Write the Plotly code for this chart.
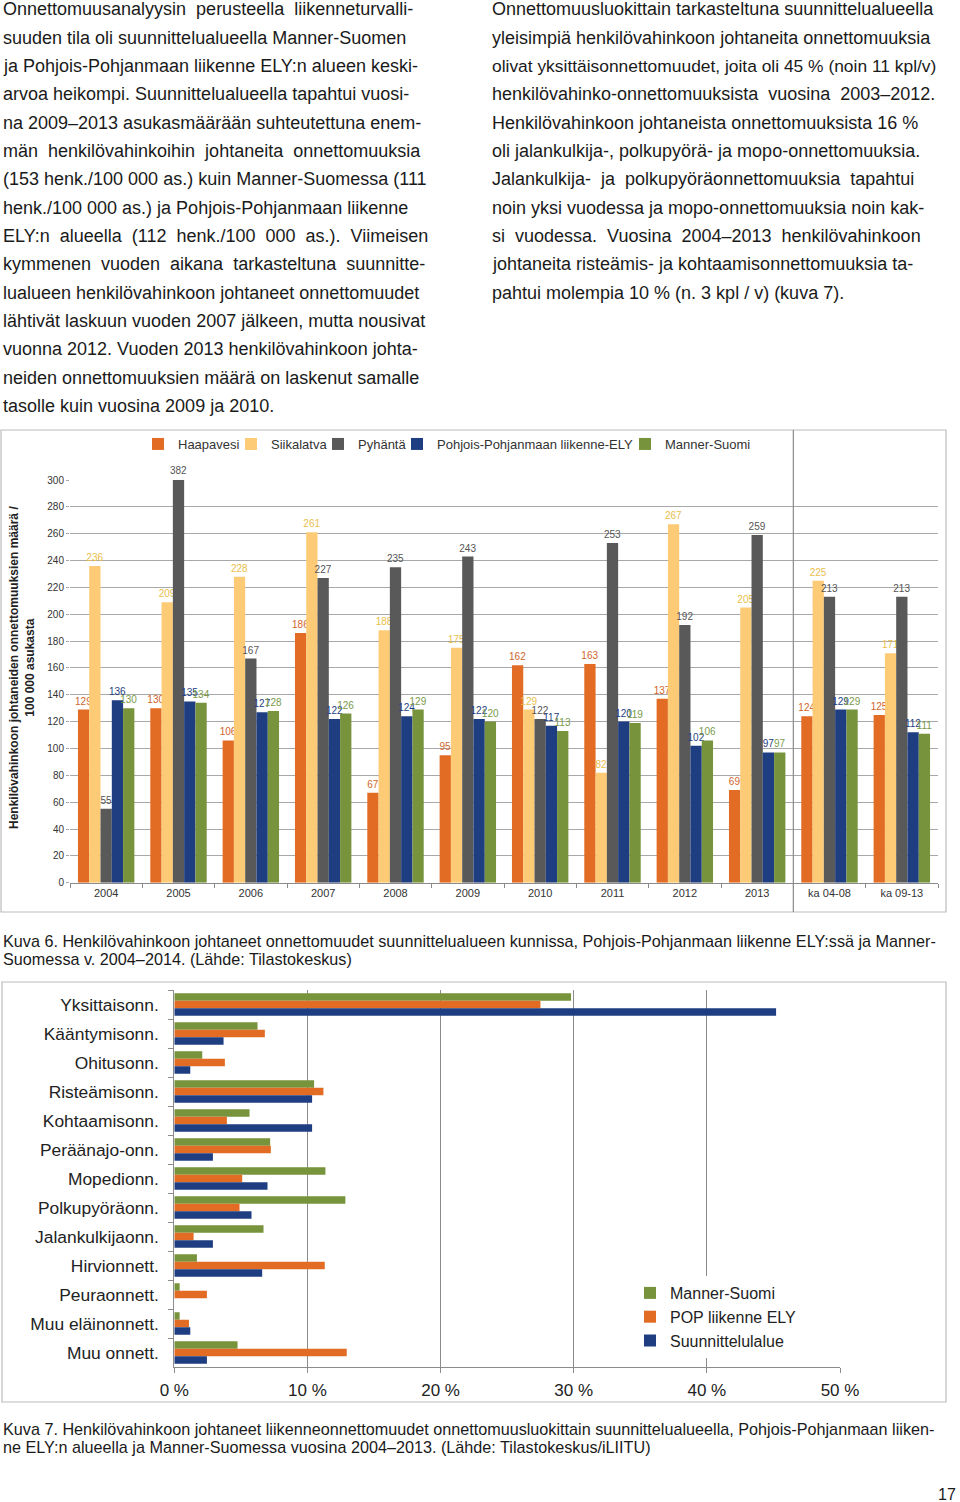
import plotly.graph_objects as go

W, H = 960, 1502


def fx(x):
    return x / W


def fy(y):
    return 1 - y / H


# ---------------- text ----------------
LEFT_TEXT = [
    "Onnettomuusanalyysin  perusteella  liikenneturvalli-",
    "suuden tila oli suunnittelualueella Manner-Suomen",
    "ja Pohjois-Pohjanmaan liikenne ELY:n alueen keski-",
    "arvoa heikompi. Suunnittelualueella tapahtui vuosi-",
    "na 2009–2013 asukasmäärään suhteutettuna enem-",
    "män  henkilövahinkoihin  johtaneita  onnettomuuksia",
    "(153 henk./100 000 as.) kuin Manner-Suomessa (111",
    "henk./100 000 as.) ja Pohjois-Pohjanmaan liikenne",
    "ELY:n  alueella  (112  henk./100  000  as.).  Viimeisen",
    "kymmenen  vuoden  aikana  tarkasteltuna  suunnitte-",
    "lualueen henkilövahinkoon johtaneet onnettomuudet",
    "lähtivät laskuun vuoden 2007 jälkeen, mutta nousivat",
    "vuonna 2012. Vuoden 2013 henkilövahinkoon johta-",
    "neiden onnettomuuksien määrä on laskenut samalle",
    "tasolle kuin vuosina 2009 ja 2010.",
]
RIGHT_TEXT = [
    "Onnettomuusluokittain tarkasteltuna suunnittelualueella",
    "yleisimpiä henkilövahinkoon johtaneita onnettomuuksia",
    "olivat yksittäisonnettomuudet, joita oli 45 % (noin 11 kpl/v)",
    "henkilövahinko-onnettomuuksista  vuosina  2003–2012.",
    "Henkilövahinkoon johtaneista onnettomuuksista 16 %",
    "oli jalankulkija-, polkupyörä- ja mopo-onnettomuuksia.",
    "Jalankulkija-  ja  polkupyöräonnettomuuksia  tapahtui",
    "noin yksi vuodessa ja mopo-onnettomuuksia noin kak-",
    "si  vuodessa.  Vuosina  2004–2013  henkilövahinkoon",
    "johtaneita risteämis- ja kohtaamisonnettomuuksia ta-",
    "pahtui molempia 10 % (n. 3 kpl / v) (kuva 7).",
]
CAPTION6 = [
    "Kuva 6. Henkilövahinkoon johtaneet onnettomuudet suunnittelualueen kunnissa, Pohjois-Pohjanmaan liikenne ELY:ssä ja Manner-",
    "Suomessa v. 2004–2014. (Lähde: Tilastokeskus)",
]
CAPTION7 = [
    "Kuva 7. Henkilövahinkoon johtaneet liikenneonnettomuudet onnettomuusluokittain suunnittelualueella, Pohjois-Pohjanmaan liiken-",
    "ne ELY:n alueella ja Manner-Suomessa vuosina 2004–2013. (Lähde: Tilastokeskus/iLIITU)",
]
PAGE_NO = "17"

# ---------------- chart 1 data ----------------
YEARS = ["2004", "2005", "2006", "2007", "2008", "2009", "2010", "2011",
         "2012", "2013", "ka 04-08", "ka 09-13"]
HAAPAVESI = [129, 130, 106, 186, 67, 95, 162, 163, 137, 69, 124, 125]
SIIKALATVA = [236, 209, 228, 261, 188, 175, 129, 82, 267, 205, 225, 171]
PYHANTA = [55, 382, 167, 227, 235, 243, 122, 253, 192, 259, 213, 213]
POP_ELY = [136, 135, 127, 122, 124, 122, 117, 120, 102, 97, 129, 112]
MANNER_SUOMI = [130, 134, 128, 126, 129, 120, 113, 119, 106, 97, 129, 111]
SERIES1_NAMES = ["Haapavesi", "Siikalatva", "Pyhäntä",
                 "Pohjois-Pohjanmaan liikenne-ELY", "Manner-Suomi"]
Y1_TICKS = list(range(0, 301, 20))
Y1_MAX = 300

# ---------------- chart 2 data ----------------
CLASSES = ["Yksittaisonn.", "Kääntymisonn.", "Ohitusonn.", "Risteämisonn.",
           "Kohtaamisonn.", "Peräänajo-onn.", "Mopedionn.", "Polkupyöräonn.",
           "Jalankulkijaonn.", "Hirvionnett.", "Peuraonnett.", "Muu eläinonnett.",
           "Muu onnett."]
MANNER_PCT = [29.8, 6.25, 2.1, 10.5, 5.65, 7.2, 11.35, 12.85, 6.7, 1.7, 0.4, 0.4, 4.75]
POP_PCT = [27.5, 6.8, 3.8, 11.2, 3.95, 7.25, 5.1, 4.9, 1.45, 11.3, 2.45, 1.1, 12.95]
SUUNN_PCT = [45.2, 3.7, 1.2, 10.35, 10.35, 2.9, 7.0, 5.8, 2.9, 6.6, 0.0, 1.2, 2.45]
SERIES2_NAMES = ["Manner-Suomi", "POP liikenne ELY", "Suunnittelulalue"]
X2_TICKS = [0, 10, 20, 30, 40, 50]
X2_LABELS = ["0 %", "10 %", "20 %", "30 %", "40 %", "50 %"]

# ---------------- styles ----------------
BAR_COLORS1 = ["#E36C24", "#FDCB76", "#595959", "#1F3E82", "#77933C"]
LABEL_COLORS1 = ["#CF652C", "#E9BE4C", "#555555", "#1F3E82", "#7A9A4A"]
BAR_COLORS2 = ["#77933C", "#E36C24", "#1F3E82"]
FONT = "Liberation Sans, Arial, sans-serif"
TEXT_COLOR = "#1a1a1a"
# legend ids and text-start pixel positions for the chart-1 legend entries
LEGEND1_IDS = ["legend", "legend3", "legend4", "legend5", "legend6"]
LEGEND1_TEXT_X = [176, 269, 356, 435, 663]

fig = go.Figure()

series1 = [HAAPAVESI, SIIKALATVA, PYHANTA, POP_ELY, MANNER_SUOMI]
for name, vals, col, lcol, lid in zip(SERIES1_NAMES, series1, BAR_COLORS1, LABEL_COLORS1, LEGEND1_IDS):
    fig.add_trace(go.Bar(
        x=YEARS, y=vals, name=name, xaxis="x", yaxis="y",
        marker=dict(color=col, line=dict(width=0)),
        text=[str(v) if v <= Y1_MAX else "" for v in vals],
        textposition="outside", constraintext="none",
        textfont=dict(size=10, color=lcol, family=FONT),
        hoverinfo="x+y", legend=lid,
    ))

series2 = [MANNER_PCT, POP_PCT, SUUNN_PCT]
for name, vals, col in zip(SERIES2_NAMES, series2, BAR_COLORS2):
    fig.add_trace(go.Bar(
        y=CLASSES, x=vals, name=name, orientation="h", xaxis="x2", yaxis="y2",
        marker=dict(color=col, line=dict(width=0)),
        legend="legend2",
    ))

annotations = []
LINE_H = 28.33
for i, line in enumerate(LEFT_TEXT):
    annotations.append(dict(text=line, x=fx(1), y=fy(9.5 + LINE_H * i), xref="paper", yref="paper",
                            xanchor="left", yanchor="middle", showarrow=False,
                            font=dict(size=18, color=TEXT_COLOR, family=FONT)))
for i, line in enumerate(RIGHT_TEXT):
    size = 17.4 if len(line) > 58 else 18
    annotations.append(dict(text=line, x=fx(490), y=fy(9.5 + LINE_H * i), xref="paper", yref="paper",
                            xanchor="left", yanchor="middle", showarrow=False,
                            font=dict(size=size, color=TEXT_COLOR, family=FONT)))
for i, line in enumerate(CAPTION6):
    annotations.append(dict(text=line, x=fx(1), y=fy(941 + 18 * i), xref="paper", yref="paper",
                            xanchor="left", yanchor="middle", showarrow=False,
                            font=dict(size=16.2, color=TEXT_COLOR, family=FONT)))
for i, line in enumerate(CAPTION7):
    annotations.append(dict(text=line, x=fx(1), y=fy(1429 + 18 * i), xref="paper", yref="paper",
                            xanchor="left", yanchor="middle", showarrow=False,
                            font=dict(size=16.2, color=TEXT_COLOR, family=FONT)))
annotations.append(dict(text=PAGE_NO, x=fx(958), y=fy(1494), xref="paper", yref="paper",
                        xanchor="right", yanchor="middle", showarrow=False,
                        font=dict(size=16, color=TEXT_COLOR, family=FONT)))
# y-axis title chart 1
annotations.append(dict(text="<b>Henkilövahinkoon johtaneiden onnettomuuksien määrä /<br>100 000 asukasta</b>",
                        x=fx(22), y=fy(668), xref="paper", yref="paper", textangle=-90,
                        xanchor="center", yanchor="middle", showarrow=False,
                        font=dict(size=12, color="#222", family=FONT)))

# labels for values beyond the axis range (bar clipped at top); x as category serial number
BAR_PX = 72.33 * (1 - 0.22) / 5
for si, vals in enumerate(series1):
    for ci, v in enumerate(vals):
        if v > Y1_MAX:
            annotations.append(dict(text=str(v), x=ci, y=Y1_MAX, xref="x", yref="y",
                                    xshift=(si - 2) * BAR_PX, yshift=9, showarrow=False,
                                    font=dict(size=10, color=LABEL_COLORS1[si], family=FONT)))

shapes = [
    # chart 1 frame
    dict(type="rect", xref="paper", yref="paper", x0=fx(1), x1=fx(946), y0=fy(912), y1=fy(430),
         line=dict(color="#BBBBBB", width=1.2), layer="below"),
    # separator between years and averages
    dict(type="line", xref="x", yref="paper", x0=9.5, x1=9.5, y0=fy(912), y1=fy(430),
         line=dict(color="#8A8A8A", width=1.2)),
    # chart 2 frame
    dict(type="rect", xref="paper", yref="paper", x0=fx(2), x1=fx(946), y0=fy(1402), y1=fy(982),
         line=dict(color="#BBBBBB", width=1.2), layer="below"),
]

legends = {}
for lid, tx in zip(LEGEND1_IDS, LEGEND1_TEXT_X):
    legends[lid] = dict(orientation="h", x=fx(tx - 38), y=fy(444), xanchor="left", yanchor="middle",
                        font=dict(size=13, color="#333", family=FONT), bgcolor="rgba(0,0,0,0)",
                        itemwidth=30)

fig.update_layout(
    width=W, height=H, autosize=False,
    margin=dict(l=0, r=0, t=0, b=0, pad=0, autoexpand=False),
    paper_bgcolor="white", plot_bgcolor="white",
    font=dict(family=FONT, color="#333"),
    barmode="group", bargap=0.22, bargroupgap=0,
    showlegend=True,
    xaxis=dict(domain=[fx(70), fx(938)], type="category", categoryorder="array", categoryarray=YEARS,
               range=[-0.5, len(YEARS) - 0.5], automargin=False,
               showgrid=False, showline=True, linecolor="#8A8A8A", linewidth=1,
               ticks="outside", tickson="boundaries", ticklen=4, tickcolor="#8A8A8A", tickangle=0,
               tickfont=dict(size=11, color="#333", family=FONT), anchor="y", fixedrange=True),
    yaxis=dict(domain=[fy(882.7), fy(480)], range=[0, Y1_MAX], tickvals=Y1_TICKS, automargin=False,
               showgrid=True, gridcolor="#A8A8A8", gridwidth=1, zeroline=False, showline=False,
               ticks="outside", ticklen=3, tickcolor="#A8A8A8",
               tickfont=dict(size=10, color="#333", family=FONT), anchor="x", fixedrange=True),
    xaxis2=dict(domain=[fx(174.3), fx(840)], range=[0, 50], tickvals=X2_TICKS, ticktext=X2_LABELS,
                automargin=False,
                showgrid=True, gridcolor="#8C8C8C", gridwidth=1, zeroline=False,
                showline=True, linecolor="#8C8C8C", ticks="outside", ticklen=5, tickcolor="#8C8C8C",
                ticklabelstandoff=3,
                tickfont=dict(size=17, color="#222", family=FONT), anchor="y2", fixedrange=True),
    yaxis2=dict(domain=[fy(1367), fy(990)], type="category", categoryorder="array",
                categoryarray=CLASSES, autorange="reversed", automargin=False,
                showgrid=False, showline=True, linecolor="#8C8C8C",
                ticks="outside", tickson="boundaries", ticklen=5, tickcolor="#8C8C8C",
                ticklabelstandoff=11,
                tickfont=dict(size=17.4, color="#222", family=FONT), anchor="x2", fixedrange=True),
    legend2=dict(orientation="v", x=fx(630), y=fy(1276), xanchor="left", yanchor="top",
                 font=dict(size=16, color="#222", family=FONT), bgcolor="white",
                 traceorder="normal", tracegroupgap=0),
    annotations=annotations,
    shapes=shapes,
    **legends,
)

fig.write_html(
    "out.html",
    config={"displayModeBar": False},
    post_script="document.body.style.margin='0px';document.documentElement.style.overflow='hidden';",
)
